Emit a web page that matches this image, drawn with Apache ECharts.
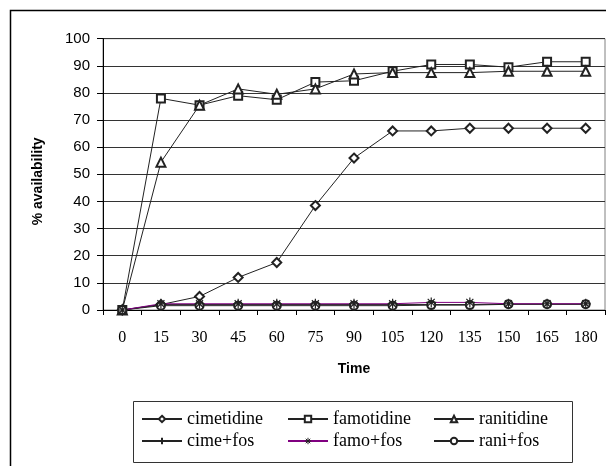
<!DOCTYPE html>
<html>
<head>
<meta charset="utf-8">
<script src="https://cdn.jsdelivr.net/npm/echarts@6/dist/echarts.min.js"></script>
<style>
  html, body { margin: 0; padding: 0; background: #fff; }
  #chart { width: 606px; height: 466px; }
</style>
</head>
<body>
<div id="chart"></div>
<script>
// Sampling times (minutes)
const times = ['0', '15', '30', '45', '60', '75', '90', '105', '120', '135', '150', '165', '180'];

// % availability of each drug over time
const cimetidine = [0, 2, 5, 12, 17.5, 38.5, 56, 66, 66, 67, 67, 67, 67];
const famotidine = [0, 78, 75.5, 79, 77.5, 84, 84.5, 88, 90.5, 90.5, 89.5, 91.5, 91.5];
const ranitidine = [0, 54.5, 75.5, 81.5, 79.5, 81.5, 87, 87.5, 87.5, 87.5, 88, 88, 88];
const cimeFos = [0, 2, 2, 2, 2, 2, 2, 2, 2, 2, 2.2, 2.2, 2.2];
const famoFos = [0, 2.3, 2.3, 2.3, 2.3, 2.3, 2.3, 2.3, 2.8, 2.8, 2.3, 2.3, 2.3];
const raniFos = [0, 1.6, 1.6, 1.6, 1.6, 1.6, 1.6, 1.6, 1.8, 1.8, 2.1, 2.1, 2.1];

const yTicks = { min: 0, max: 100, interval: 10 };

const ink = '#222';
const plusPath = 'path://M0,5H10M5,0V10';
const starPath = 'path://M0,5H10M5,0V10M1.5,1.5L8.5,8.5M8.5,1.5L1.5,8.5';

function lineSeries(name, data, symbol, size, color, strokeSymbol) {
  return {
    name: name,
    type: 'line',
    data: data,
    symbol: symbol,
    symbolSize: size,
    showAllSymbol: true,
    lineStyle: { color: color, width: 1 },
    itemStyle: strokeSymbol
      ? { color: ink, borderColor: ink, borderWidth: 1.2 }
      : { color: ink, borderWidth: 1 },
    emphasis: { disabled: true },
    animation: false
  };
}

const legendText = { fontFamily: 'Liberation Serif', fontSize: 18, color: '#000', lineHeight: 20 };
function legendCol(left, names) {
  return {
    orient: 'vertical',
    left: left,
    top: 409,
    itemWidth: 40,
    itemHeight: 8,
    itemGap: 2,
    padding: 0,
    textStyle: legendText,
    data: names,
    selectedMode: false
  };
}

const chart = echarts.init(document.getElementById('chart'), null, { renderer: 'canvas' });
chart.setOption({
  backgroundColor: '#fff',
  animation: false,
  grid: { left: 103, top: 38.7, right: 1, bottom: 156, show: true, borderColor: '#808080', borderWidth: 1 },
  xAxis: {
    type: 'category',
    data: times,
    boundaryGap: true,
    name: 'Time',
    nameLocation: 'middle',
    nameGap: 52,
    nameTextStyle: { fontFamily: 'Liberation Sans', fontWeight: 'bold', fontSize: 14, color: '#000' },
    axisLine: { lineStyle: { color: '#000', width: 1 } },
    axisTick: { show: true, length: 5, inside: false, lineStyle: { color: '#000' } },
    axisLabel: { fontFamily: 'Liberation Serif', fontSize: 16, color: '#000', margin: 20, interval: 0 },
    splitLine: { show: false }
  },
  yAxis: {
    type: 'value',
    min: yTicks.min,
    max: yTicks.max,
    interval: yTicks.interval,
    name: '% availability',
    nameLocation: 'middle',
    nameGap: 58,
    nameTextStyle: { fontFamily: 'Liberation Sans', fontWeight: 'bold', fontSize: 14, color: '#000', padding: [0, 14, 0, 0] },
    axisLine: { show: true, lineStyle: { color: '#000', width: 1 } },
    axisTick: { show: true, length: 6, lineStyle: { color: '#000' } },
    axisLabel: { fontFamily: 'Liberation Sans', fontSize: 15, color: '#000', margin: 13 },
    splitLine: { show: true, lineStyle: { color: '#333', width: 1 } }
  },
  legend: [
    legendCol(141, ['cimetidine', 'cime+fos']),
    legendCol(287, ['famotidine', {
      name: 'famo+fos',
      itemStyle: { color: ink, borderColor: ink, borderWidth: 1 }
    }]),
    legendCol(433, ['ranitidine', 'rani+fos'])
  ],
  graphic: [
    { type: 'rect', shape: { x: 10.5, y: 10.5, width: 620, height: 480 }, style: { fill: 'none', stroke: '#000', lineWidth: 1.5 }, silent: true, z: -1 },
    { type: 'rect', shape: { x: 133.5, y: 401.5, width: 439, height: 61 }, style: { fill: 'none', stroke: '#333', lineWidth: 1 }, silent: true }
  ],
  series: [
    lineSeries('cimetidine', cimetidine, 'emptyDiamond', 9, ink, false),
    lineSeries('famotidine', famotidine, 'emptyRect', 8, ink, false),
    lineSeries('ranitidine', ranitidine, 'emptyTriangle', 9, ink, false),
    lineSeries('cime+fos', cimeFos, plusPath, 9, ink, true),
    lineSeries('rani+fos', raniFos, 'emptyCircle', 8, ink, false),
    lineSeries('famo+fos', famoFos, starPath, 10, '#800080', true)
  ]
});
</script>
</body>
</html>
